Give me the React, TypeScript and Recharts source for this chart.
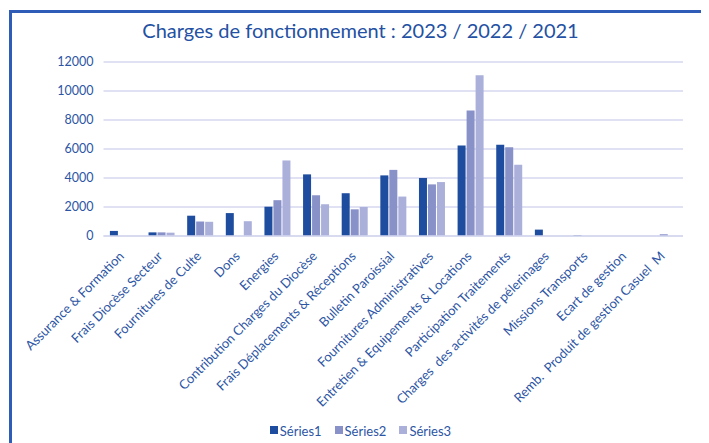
import { BarChart, Bar, XAxis, YAxis, CartesianGrid, Legend } from 'recharts';

// categories (x axis)
const categories = [
  'Assurance & Formation',
  'Frais Diocèse Secteur',
  'Fournitures de Culte',
  'Dons',
  'Energies',
  'Contribution Charges du Diocèse',
  'Frais Déplacements & Réceptions',
  'Bulletin Paroissial',
  'Fournitures Administratives',
  'Entretien & Equipements & Locations',
  'Participation Traitements',
  'Charges  des activités de pélerinages',
  'Missions Transports',
  'Ecart de gestion',
  'Remb.  Produit de gestion Casuel  M',
];

const series1 = [350, 250, 1400, 1580, 2020, 4250, 2950, 4180, 4000, 6250, 6300, 440, 40, 0, 0];
const series2 = [0, 250, 1000, 0, 2470, 2810, 1840, 4560, 3560, 8650, 6120, 0, 0, 0, 120];
const series3 = [0, 230, 980, 1020, 5210, 2190, 2000, 2720, 3720, 11090, 4910, 0, 0, 0, 0];

const yTicks = [0, 2000, 4000, 6000, 8000, 10000, 12000];
const seriesNames = ['Séries1', 'Séries2', 'Séries3'];
const seriesColors = ['#1E4C9E', '#8991C9', '#AAB0DA'];

const data = categories.map((name, i) => ({
  name,
  s1: series1[i],
  s2: series2[i],
  s3: series3[i],
}));

const FONT = 'Lato, "Open Sans", sans-serif';
const TEXT_BLUE = '#2C55A4';

const XTick = (props: any) => {
  const { x, y, payload } = props;
  return (
    <g transform={`translate(${x + 2},${y + 21})`}>
      <text
        transform="rotate(-45)"
        textAnchor="end"
        x={0}
        y={0}
        fill={TEXT_BLUE}
        fontSize={13}
        fontFamily={FONT}
        style={{ whiteSpace: 'pre' }}
      >
        {payload.value}
      </text>
    </g>
  );
};

const LegendContent = () => (
  <div
    style={{
      display: 'flex',
      justifyContent: 'center',
      gap: 13,
      fontFamily: FONT,
      fontSize: 13,
      color: TEXT_BLUE,
      paddingLeft: 4,
    }}
  >
    {seriesNames.map((n, i) => (
      <span key={n} style={{ display: 'flex', alignItems: 'center' }}>
        <span
          style={{
            width: 8,
            height: 8,
            background: seriesColors[i],
            display: 'inline-block',
            marginRight: 2,
            marginTop: -3,
          }}
        />
        <span>{n}</span>
      </span>
    ))}
  </div>
);

export default function App() {
  return (
    <div style={{ position: 'relative', width: 701, height: 435, overflow: 'hidden', background: '#fff' }}>
      {/* frame (only top and left edges are visible in the picture) */}
      <div
        style={{
          position: 'absolute',
          left: 1,
          top: 2,
          width: 900,
          height: 700,
          borderLeft: '3px solid #2E5CB6',
          borderTop: '3px solid #2E5CB6',
        }}
      />
      <div
        style={{
          position: 'absolute',
          left: 0,
          top: 10,
          width: 701,
          textAlign: 'center',
          fontFamily: FONT,
          fontSize: 20,
          color: '#2451A3',
          paddingLeft: 4,
          boxSizing: 'border-box',
        }}
      >
        Charges de fonctionnement : 2023 / 2022 / 2021
      </div>
      <div style={{ position: 'absolute', left: 0, top: 0 }}>
        <BarChart
          width={701}
          height={435}
          data={data}
          margin={{ top: 54, right: 26, left: 0, bottom: 0 }}
          barCategoryGap={6.4}
          barGap={1}
        >
          <CartesianGrid vertical={false} stroke="#D6D9EF" strokeWidth={1.5} />
          <XAxis
            dataKey="name"
            interval={0}
            tickLine={false}
            axisLine={{ stroke: '#D6D9EF', strokeWidth: 1.5 }}
            tickSize={0}
            tickMargin={0}
            height={191}
            tick={<XTick />}
          />
          <YAxis
            width={95.5}
            domain={[0, 12000]}
            ticks={yTicks}
            tickLine={false}
            axisLine={false}
            tickSize={0}
            tickMargin={10}
            tick={{ fill: TEXT_BLUE, fontSize: 12.5, fontFamily: FONT }}
          />
          <Legend verticalAlign="bottom" wrapperStyle={{ bottom: 4, left: 0, width: 701 }} content={<LegendContent />} />
          <Bar dataKey="s1" name={seriesNames[0]} fill={seriesColors[0]} isAnimationActive={false} />
          <Bar dataKey="s2" name={seriesNames[1]} fill={seriesColors[1]} isAnimationActive={false} />
          <Bar dataKey="s3" name={seriesNames[2]} fill={seriesColors[2]} isAnimationActive={false} />
        </BarChart>
      </div>
    </div>
  );
}
